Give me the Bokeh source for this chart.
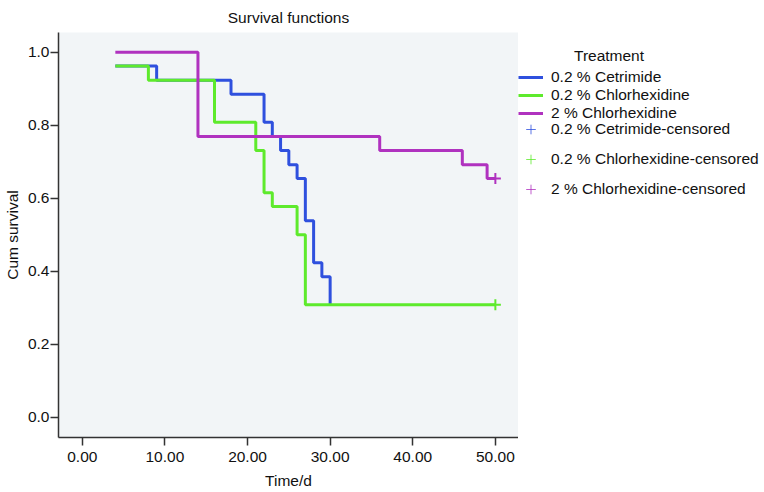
from bokeh.plotting import figure
from bokeh.layouts import row
from bokeh.models import Legend, LegendItem, FixedTicker, ColumnDataSource, Range1d
from bokeh.embed import file_html
from bokeh.resources import INLINE

# ---- data ----
cet_t = [4, 9, 18, 22, 23, 24, 25, 26, 27, 28, 29, 30]
cet_s = [0.962, 0.923, 0.885, 0.808, 0.769, 0.731, 0.692, 0.654, 0.538, 0.423, 0.385, 0.308]

chx02_t = [4, 8, 16, 21, 22, 23, 26, 27, 50]
chx02_s = [0.962, 0.923, 0.808, 0.731, 0.615, 0.577, 0.500, 0.308, 0.308]

chx2_t = [4, 14, 36, 46, 49, 50]
chx2_s = [1.0, 0.769, 0.731, 0.692, 0.654, 0.654]

cens_cet_t, cens_cet_s = [], []
cens_chx02_t, cens_chx02_s = [50], [0.308]
cens_chx2_t, cens_chx2_s = [50], [0.654]

x_ticks = [0, 10, 20, 30, 40, 50]
y_ticks = [0.0, 0.2, 0.4, 0.6, 0.8, 1.0]

names = ["0.2 % Cetrimide", "0.2 % Chlorhexidine", "2 % Chlorhexidine"]
colors = ["#2f50de", "#5eea2c", "#b032bf"]

FONT = "Liberation Sans"
FS = "15.5px"
H = 492

p = figure(output_backend="svg", toolbar_location=None,
           width=518, height=H,
           min_border_left=58, min_border_right=0,
           min_border_top=32, min_border_bottom=55,
           x_range=Range1d(-2.88, 52.8), y_range=Range1d(-0.0556, 1.054),
           title="Survival functions")

p.background_fill_color = "#f2f5f7"
p.border_fill_color = "white"
p.outline_line_color = None
p.grid.visible = False

p.title.align = "center"
p.title.text_font = FONT
p.title.text_font_size = FS
p.title.text_font_style = "normal"
p.title.text_color = "#111111"
p.title.offset = 0
p.title.standoff = 13

for ax in (p.xaxis[0], p.yaxis[0]):
    ax.axis_line_color = "#333333"
    ax.axis_line_width = 1.5
    ax.major_tick_line_color = "#333333"
    ax.major_tick_line_width = 1.5
    ax.major_tick_out = 8
    ax.major_tick_in = 0
    ax.minor_tick_line_color = None
    ax.major_label_text_font = FONT
    ax.major_label_text_font_size = FS
    ax.major_label_text_color = "#111111"
    ax.axis_label_text_font = FONT
    ax.axis_label_text_font_size = FS
    ax.axis_label_text_font_style = "normal"
    ax.axis_label_text_color = "#111111"

p.xaxis.ticker = FixedTicker(ticks=x_ticks)
p.yaxis.ticker = FixedTicker(ticks=y_ticks)
p.xaxis.major_label_overrides = {t: f"{t:.2f}" for t in x_ticks}
p.yaxis.major_label_overrides = {t: f"{t:.1f}" for t in y_ticks}
p.xaxis.axis_label = "Time/d"
p.yaxis.axis_label = "Cum survival"
p.xaxis.major_label_standoff = 6
p.xaxis.axis_label_standoff = 7
p.yaxis.major_label_standoff = 1
p.yaxis.axis_label_standoff = 4

series = [(cet_t, cet_s), (chx02_t, chx02_s), (chx2_t, chx2_s)]
cens = [(cens_cet_t, cens_cet_s), (cens_chx02_t, cens_chx02_s), (cens_chx2_t, cens_chx2_s)]

for (t, s), c in zip(series, colors):
    p.step(x=t, y=s, mode="after", line_color=c, line_width=3)
for (t, s), c in zip(cens, colors):
    src = ColumnDataSource(data=dict(x=t, y=s))
    p.scatter(x="x", y="y", source=src, marker="cross", size=11,
              line_color=c, line_width=2)

# ---- legend panel (separate figure to the right) ----
q = figure(output_backend="svg", toolbar_location=None,
           width=764 - 518, height=H, min_border=0,
           x_range=Range1d(0, 1), y_range=Range1d(0, 1))
q.axis.visible = False
q.grid.visible = False
q.outline_line_color = None
q.background_fill_color = "white"
q.border_fill_color = "white"

nan = float("nan")
step_leg = []
for c in colors:
    r = q.step(x=[nan], y=[nan], mode="after", line_color=c, line_width=3)
    step_leg.append(r)
cross_leg = []
for c in colors:
    r = q.scatter(x=[nan], y=[nan], marker="cross", size=11,
                  line_color=c, line_width=1, line_alpha=0.8)
    cross_leg.append(r)


def style_legend(lg):
    lg.margin = 0
    lg.padding = 0
    lg.background_fill_alpha = 0
    lg.border_line_color = None
    lg.glyph_width = 25
    lg.label_standoff = 8
    lg.label_text_font = FONT
    lg.label_text_font_size = FS
    lg.label_text_color = "#111111"
    lg.label_text_baseline = "middle"
    lg.label_text_line_height = 1.0


nb = "\u00a0"
leg1 = Legend(items=[LegendItem(label=n, renderers=[r]) for n, r in zip(names, step_leg)],
              location=(0, 315), title=nb * 13 + "Treatment")
style_legend(leg1)
leg1.glyph_height = 16
leg1.label_height = 16
leg1.spacing = 0
leg1.title_text_font = FONT
leg1.title_text_font_size = FS
leg1.title_text_font_style = "normal"
leg1.title_text_color = "#111111"
leg1.title_standoff = 3

leg2 = Legend(items=[LegendItem(label=n + "-censored", renderers=[r]) for n, r in zip(names, cross_leg)],
              location=(0, 236))
style_legend(leg2)
leg2.glyph_height = 24
leg2.label_height = 24
leg2.spacing = 6

q.add_layout(leg1)
q.add_layout(leg2)

layout = row(p, q, spacing=0)
open("out.html", "w").write(file_html(layout, INLINE))
